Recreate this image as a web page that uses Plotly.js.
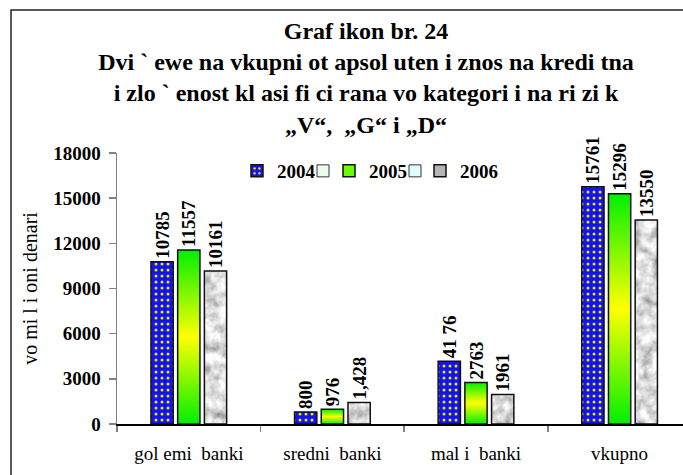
<!DOCTYPE html>
<html>
<head>
<meta charset="utf-8">
<script src="https://cdn.plot.ly/plotly-3.0.1.min.js"></script>
<style>
html,body{margin:0;padding:0;background:#fff;}
#chart{width:683px;height:475px;}
</style>
</head>
<body>
<div id="chart"></div>
<script>
// ---- data ----
var categories = ["gol emi  banki", "sredni  banki", "mal i  banki", "vkupno"];
var years = ["2004", "2005", "2006"];
var values2004 = [10785, 800, 4176, 15761];
var values2005 = [11557, 976, 2763, 15296];
var values2006 = [10161, 1428, 1961, 13550];
var labels2004 = ["10785", "800", "41 76", "15761"];
var labels2005 = ["11557", "976", "2763", "15296"];
var labels2006 = ["10161", "1,428", "1961", "13550"];
var yTicks = [0, 3000, 6000, 9000, 12000, 15000, 18000];
var titleLines = ["Graf ikon br. 24", "Dvi ` ewe na vkupni ot apsol uten i znos na kredi tna",
                  "i zlo ` enost kl asi fi ci rana vo kategori i na ri zi k", "„V“,  „G“ i „D“"];
var yTitle = "vo mi l i oni denari";

// ---- styles ----
var SERIF = "Liberation Serif";
var barW = 0.155, step = 0.186;
var lineStyle = {color: "#111", width: 1.5};
var labelFont = {family: SERIF, size: 19, color: "#000", weight: "bold"};

function barTrace(name, vals, labs, offset, marker, legendId) {
  return {
    type: "bar", name: name, x: categories, y: vals, text: labs,
    textposition: "outside", textangle: -90, textfont: labelFont,
    constraintext: "none", cliponaxis: false,
    width: barW, offset: offset, marker: marker, legend: legendId,
    hoverinfo: "none"
  };
}
function dummyTrace(color, legendId) {
  return {
    type: "bar", name: " ", x: categories, y: [null, null, null, null],
    marker: {color: color, line: {color: "#333", width: 1}},
    legend: legendId, showlegend: true, hoverinfo: "none"
  };
}

var data = [
  barTrace(years[0], values2004, labels2004, -step - barW / 2,
    {color: "#1212f2", line: lineStyle,
     pattern: {shape: ".", bgcolor: "#1212f2", fgcolor: "#e8e800", size: 6, solidity: 0.2, fillmode: "replace"}}, "legend"),
  dummyTrace("#ecfcec", "legend2"),
  barTrace(years[1], values2005, labels2005, -barW / 2,
    {color: "#66ff00", line: lineStyle}, "legend3"),
  dummyTrace("#e2fbff", "legend4"),
  barTrace(years[2], values2006, labels2006, step - barW / 2,
    {color: "#b5b5b5", line: lineStyle}, "legend5")
];

var L = 117, R = 683, T = 153, B = 424;
var pw = R - L, ph = B - T;

function leg(xpx) {
  return {
    orientation: "h", xref: "paper", yref: "paper",
    x: (xpx - L) / pw, xanchor: "left", y: (B - 171) / ph, yanchor: "middle",
    font: {family: SERIF, size: 19, color: "#000", weight: "bold"},
    bgcolor: "rgba(0,0,0,0)", borderwidth: 0, itemclick: false
  };
}

var layout = {
  width: 683, height: 475,
  margin: {l: L, r: 683 - R, t: T, b: 475 - B, pad: 0},
  paper_bgcolor: "#fff", plot_bgcolor: "#fff",
  barmode: "overlay",
  showlegend: true,
  title: {
    text: titleLines.join("<br>"),
    font: {family: SERIF, size: 24, color: "#000", weight: "bold"},
    xref: "container", yref: "container", x: 366 / 683, xanchor: "center",
    y: 1 - 39 / 475, yanchor: "top", automargin: false
  },
  xaxis: {
    type: "category", range: [-0.5, -0.5 + pw / 143.6],
    showline: true, linecolor: "#000", linewidth: 1.5,
    ticks: "outside", tickson: "boundaries", ticklen: 6, tickcolor: "#808080", tickwidth: 1.5,
    tickfont: {family: SERIF, size: 19, color: "#000"},
    ticklabelstandoff: 12,
    showgrid: false, zeroline: false, automargin: false, fixedrange: true
  },
  yaxis: {
    range: [0, 18000], tickvals: yTicks, ticktext: yTicks.map(String),
    showline: true, linecolor: "#808080", linewidth: 1.5,
    ticks: "outside", ticklen: 7, tickcolor: "#808080", tickwidth: 1.5,
    tickfont: {family: SERIF, size: 19, color: "#000", weight: "bold"},
    ticklabelstandoff: 4,
    title: {text: yTitle, font: {family: SERIF, size: 20, color: "#000"}, standoff: 10},
    showgrid: false, zeroline: false, automargin: false, fixedrange: true
  },
  legend: leg(237), legend2: leg(303), legend3: leg(329), legend4: leg(395), legend5: leg(420),
  shapes: [{
    type: "rect", xref: "paper", yref: "paper",
    x0: (11 - L) / pw, x1: (720 - L) / pw,
    y0: (B - 490) / ph, y1: (B - 10) / ph,
    line: {color: "#222", width: 1.5}, fillcolor: "rgba(0,0,0,0)", layer: "above"
  }]
};

Plotly.newPlot("chart", data, layout, {staticPlot: true, displayModeBar: false}).then(function (gd) {
  var NS = "http://www.w3.org/2000/svg";
  var svg = gd.querySelector("svg.main-svg");
  var defs = svg.querySelector("defs");
  function el(tag, attrs, parent) {
    var e = document.createElementNS(NS, tag);
    for (var k in attrs) e.setAttribute(k, attrs[k]);
    if (parent) parent.appendChild(e);
    return e;
  }
  var g = el("linearGradient", {id: "grad2005", x1: "0", y1: "0", x2: "0", y2: "1"}, defs);
  el("stop", {offset: "0", "stop-color": "#00f000"}, g);
  el("stop", {offset: "0.5", "stop-color": "#ffff00"}, g);
  el("stop", {offset: "1", "stop-color": "#00f000"}, g);
  var f = el("filter", {id: "marbleF", filterUnits: "userSpaceOnUse", x: "0", y: "0", width: "160", height: "320"}, defs);
  el("feTurbulence", {type: "fractalNoise", baseFrequency: "0.09", numOctaves: "3", seed: "4", result: "n"}, f);
  el("feColorMatrix", {type: "matrix", values: "1.2 0 0 0 0.12  1.2 0 0 0 0.12  1.2 0 0 0 0.12  0 0 0 0 1"}, f);
  var p = el("pattern", {id: "marble", patternUnits: "userSpaceOnUse", width: "160", height: "320"}, defs);
  el("rect", {x: "0", y: "0", width: "160", height: "320", fill: "#bbb", filter: "url(#marbleF)"}, p);
  var lg = el("linearGradient", {id: "legGrey", x1: "0", y1: "0", x2: "1", y2: "1"}, defs);
  el("stop", {offset: "0", "stop-color": "#eeeeee"}, lg);
  el("stop", {offset: "1", "stop-color": "#888888"}, lg);

  var fills = {"2005": "url(#grad2005)", "2006": "url(#marble)"};
  var legFills = {"2005": "url(#grad2005)", "2006": "url(#legGrey)"};
  gd.querySelectorAll(".barlayer .trace").forEach(function (t) {
    var d = t.__data__; var name = d && d[0] && d[0].trace && d[0].trace.name;
    if (fills[name]) t.querySelectorAll(".point path").forEach(function (pth) { pth.style.fill = fills[name]; });
  });
  gd.querySelectorAll(".legend .traces").forEach(function (t) {
    var d = t.__data__; var name = d && d[0] && d[0][0] && d[0][0].trace && d[0][0].trace.name;
    if (legFills[name]) t.querySelectorAll(".legendpoints path").forEach(function (pth) { pth.style.fill = legFills[name]; });
  });
});
</script>
</body>
</html>
